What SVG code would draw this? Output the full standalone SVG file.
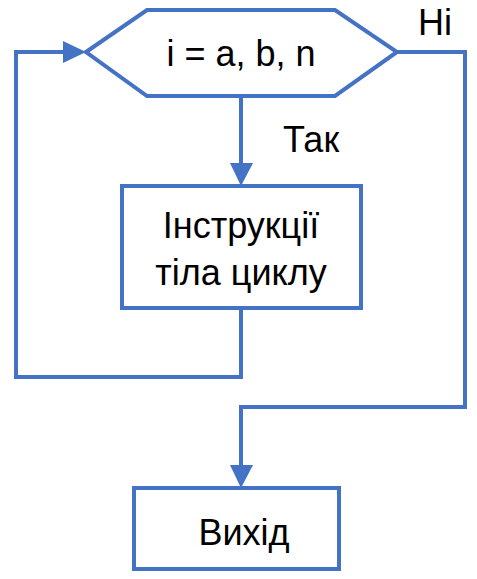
<svg xmlns="http://www.w3.org/2000/svg" width="477" height="579" viewBox="0 0 477 579">
<style>
.shape{fill:#ffffff;stroke:#4472C4;stroke-width:4}
.line{fill:none;stroke:#4472C4;stroke-width:4}
.head{fill:#4472C4;stroke:none}
text{font-family:"Liberation Sans",Arial,sans-serif;font-size:36px;fill:#000000}
</style>
<rect width="477" height="579" fill="#ffffff"/>
<g id="connectors">
<polyline class="line" points="241,96 241,164"/>
<polygon class="head" points="230,163 253,163 241,186"/>
<polyline class="line" points="241,308 241,377 16,377 16,52 64,52"/>
<polygon class="head" points="63,41 63,63 86,52"/>
<polyline class="line" points="397,52 465,52 465,407 241,407 241,466"/>
<polygon class="head" points="230,465 253,465 241,488"/>
<text x="283" y="152">Так</text>
<text x="418" y="35">Ні</text>
</g>
<g id="loop">
<polygon class="shape" points="86,52 147,10 335,10 397,52 335,96 147,96"/>
<text x="241" y="66" text-anchor="middle">i = a, b, n</text>
</g>
<g id="body">
<rect class="shape" x="122" y="186" width="239" height="122"/>
<text x="241" y="238" text-anchor="middle">Інструкції</text>
<text x="241" y="285" text-anchor="middle">тіла циклу</text>
</g>
<g id="exit">
<rect class="shape" x="134" y="488" width="205" height="81"/>
<text x="244" y="545" text-anchor="middle">Вихід</text>
</g>
</svg>
